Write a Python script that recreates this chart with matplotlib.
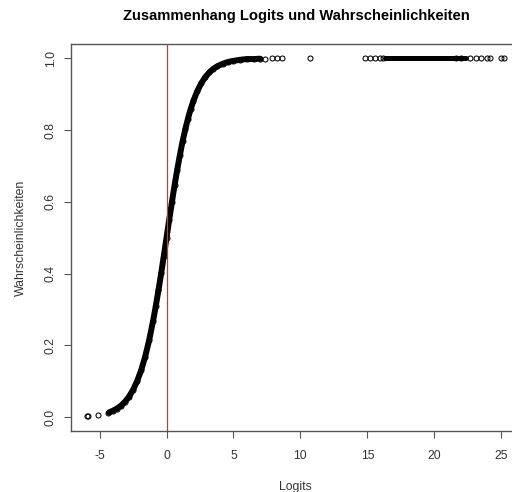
"""Logits vs. probabilities scatter (R base-graphics look)."""
import matplotlib
matplotlib.use("Agg")
import matplotlib.pyplot as plt

plt.rcParams["font.family"] = ["Liberation Sans", "DejaVu Sans"]

# isolated points in the lower tail
tail_logits = [-5.91, -5.85, -5.10, -4.40]
tail_probs = [0.003, 0.003, 0.006, 0.012]

# dense band of points along the curve
band_logits = [-4.3, -4.0, -3.7, -3.4, -3.1, -2.8, -2.5, -2.2, -1.9, -1.6,
               -1.3, -1.0, -0.8, -0.6, -0.4, -0.2, 0.0, 0.2, 0.4, 0.6,
               0.8, 1.0, 1.2, 1.4, 1.6, 1.8, 2.0, 2.3, 2.6, 2.9,
               3.2, 3.5, 3.8, 4.2, 4.6, 5.0, 5.5, 6.0, 6.5, 7.0]
band_probs = [0.013, 0.018, 0.024, 0.032, 0.043, 0.057, 0.076, 0.100, 0.130, 0.168,
              0.214, 0.269, 0.310, 0.354, 0.401, 0.450, 0.500, 0.550, 0.599, 0.646,
              0.690, 0.731, 0.769, 0.802, 0.832, 0.858, 0.881, 0.909, 0.931, 0.948,
              0.961, 0.971, 0.978, 0.985, 0.990, 0.993, 0.996, 0.998, 0.998, 0.999]

# scattered points near probability 1
upper_logits = [7.37, 7.87, 8.24, 8.60, 10.75, 14.80, 15.20, 15.57, 15.95, 16.20,
                21.6, 22.0, 22.66, 23.10, 23.50, 23.90, 24.15, 25.00, 25.23]
upper_probs = [0.999, 1.0, 1.0, 1.0, 1.0, 1.0, 1.0, 1.0, 1.0, 1.0,
               1.0, 1.0, 1.0, 1.0, 1.0, 1.0, 1.0, 1.0, 1.0]

# second dense band at probability 1
top_band_logits = [16.3, 17.0, 18.0, 19.0, 20.0, 21.0, 22.4]
top_band_probs = [1.0, 1.0, 1.0, 1.0, 1.0, 1.0, 1.0]

x_ticks = [-5, 0, 5, 10, 15, 20, 25]
y_ticks = [0.0, 0.2, 0.4, 0.6, 0.8, 1.0]

fig = plt.figure(figsize=(5.12, 4.92), dpi=100)
ax = fig.add_axes([0.138, 0.123, 0.8795, 0.7876])

circ = dict(ls="none", marker="o", ms=3.6, mfc="none", mec="black", mew=0.75)
ax.plot(band_logits, band_probs, color="black", lw=4.3,
        solid_capstyle="round", zorder=2)
ax.plot(band_logits, band_probs, **circ, zorder=2)
ax.plot(top_band_logits, top_band_probs, color="black", lw=3.6,
        solid_capstyle="round", zorder=2)
ax.plot(tail_logits, tail_probs, **circ, zorder=2)
ax.plot(upper_logits, upper_probs, **circ, zorder=2)

ax.axvline(0, color="#d03535", lw=0.9, zorder=3)

ax.set_xlim(-7.16, 26.47)
ax.set_ylim(-0.04, 1.04)
ax.set_xticks(x_ticks)
ax.set_xticklabels([str(v) for v in x_ticks])
ax.set_yticks(y_ticks)
ax.set_yticklabels([f"{v:.1f}" for v in y_ticks], rotation=90, va="center")

for sp in ax.spines.values():
    sp.set_color("#555555")
    sp.set_linewidth(1.0)
ax.tick_params(length=5, width=0.8, color="#555555", pad=8,
               labelsize=8.8, labelcolor="#333333")
ax.tick_params(axis="y", pad=5)

ax.set_xlabel("Logits", fontsize=8.8, color="#333333", labelpad=14)
ax.set_ylabel("Wahrscheinlichkeiten", fontsize=8.8, color="#333333", labelpad=12.5)
fig.text(0.578, 0.968, "Zusammenhang Logits und Wahrscheinlichkeiten",
         ha="center", va="center", fontsize=10.6, fontweight="bold")

fig.savefig("out.png", dpi=100)
